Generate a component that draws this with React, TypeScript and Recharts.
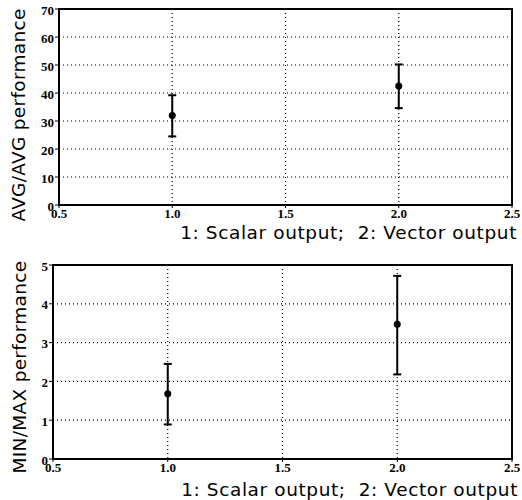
import React from 'react';
import { ComposedChart, Scatter, ErrorBar, XAxis, YAxis, CartesianGrid, ReferenceArea } from 'recharts';

// x positions: 1 = scalar output, 2 = vector output
const categories = [1, 2];
const xTicks = [0.5, 1.0, 1.5, 2.0, 2.5];

const avgMean = [32, 42.5];
const avgUpper = [39.2, 50.2];
const avgLower = [24.5, 34.6];
const avgTicks = [0, 10, 20, 30, 40, 50, 60, 70];

const minMaxMean = [1.68, 3.47];
const minMaxUpper = [2.45, 4.72];
const minMaxLower = [0.89, 2.18];
const minMaxTicks = [0, 1, 2, 3, 4, 5];

const X_TITLE = '1: Scalar output;\u00a0 2: Vector output';

const toRows = (mean: number[], upper: number[], lower: number[]) =>
  categories.map((x, i) => ({ x, y: mean[i], err: [mean[i] - lower[i], upper[i] - mean[i]] }));

const TICK_FONT = '"Liberation Serif", serif';
const TITLE_FONT = '"DejaVu Sans", sans-serif';

const XTick = (p: any) => (
  <text x={p.x} y={p.y + 8} textAnchor="middle" fontFamily={TICK_FONT} fontWeight={700} fontSize={13} fill="#000">
    {Number(p.payload.value).toFixed(1)}
  </text>
);

const YTick = (p: any) => (
  <text x={p.x + 1} y={p.y + 5.5} textAnchor="end" fontFamily={TICK_FONT} fontWeight={700} fontSize={13} fill="#000">
    {p.payload.value}
  </text>
);

type PanelProps = {
  mean: number[];
  upper: number[];
  lower: number[];
  yTicks: number[];
  yTitle: string;
  top: number;
  yWidth: number;
  xHeight: number;
  xTitlePos: [number, number];
  yTitlePos: [number, number];
};

const Panel: React.FC<PanelProps> = ({ mean, upper, lower, yTicks, yTitle, top, yWidth, xHeight, xTitlePos, yTitlePos }) => {
  const data = toRows(mean, upper, lower);
  const yMax = yTicks[yTicks.length - 1];
  return (
    <ComposedChart width={522} height={250} data={data} margin={{ top, right: 10, left: 0, bottom: 0 }}>
      <CartesianGrid stroke="#000" strokeDasharray="1 3" strokeWidth={1.2} />
      <XAxis
        dataKey="x"
        type="number"
        domain={[0.5, 2.5]}
        ticks={xTicks}
        tick={<XTick />}
        tickLine={{ stroke: '#000' }}
        tickSize={3}
        axisLine={{ stroke: '#000', strokeWidth: 2 }}
        height={xHeight}
        interval={0}
        label={{
          content: () => (
            <text x={xTitlePos[0]} y={xTitlePos[1]} textAnchor="end" fontFamily={TITLE_FONT} fontSize={18.5} letterSpacing={0.6} fill="#000">
              {X_TITLE}
            </text>
          ),
        }}
      />
      <YAxis
        type="number"
        domain={[0, yMax]}
        ticks={yTicks}
        tick={<YTick />}
        tickLine={{ stroke: '#000' }}
        tickSize={4}
        axisLine={{ stroke: '#000', strokeWidth: 2 }}
        width={yWidth}
        interval={0}
        label={{
          content: () => (
            <text
              transform={`translate(${yTitlePos[0]},${yTitlePos[1]}) rotate(-90)`}
              textAnchor="middle"
              dominantBaseline="central"
              fontFamily={TITLE_FONT}
              fontSize={18.5}
              letterSpacing={0.3}
              fill="#000"
            >
              {yTitle}
            </text>
          ),
        }}
      />
      <ReferenceArea x1={0.5} x2={2.5} y1={0} y2={yMax} fill="none" stroke="#000" strokeWidth={2} ifOverflow="visible" />
      <Scatter dataKey="y" fill="#000" isAnimationActive={false} shape={(p: any) => <circle cx={p.cx} cy={p.cy} r={3.5} fill="#000" />}>
        <ErrorBar dataKey="err" direction="y" width={4} stroke="#000" strokeWidth={2} isAnimationActive={false} />
      </Scatter>
    </ComposedChart>
  );
};

export default function App() {
  return (
    <div style={{ position: 'absolute', left: 0, top: 0, width: 522, height: 500, background: '#fff' }}>
      <Panel
        mean={avgMean} upper={avgUpper} lower={avgLower} yTicks={avgTicks}
        yTitle="AVG/AVG performance" top={9} yWidth={59} xHeight={45}
        xTitlePos={[517, 239]} yTitlePos={[18, 115]}
      />
      <Panel
        mean={minMaxMean} upper={minMaxUpper} lower={minMaxLower} yTicks={minMaxTicks}
        yTitle="MIN/MAX performance" top={15} yWidth={53} xHeight={41}
        xTitlePos={[518, 246]} yTitlePos={[19, 117]}
      />
    </div>
  );
}
